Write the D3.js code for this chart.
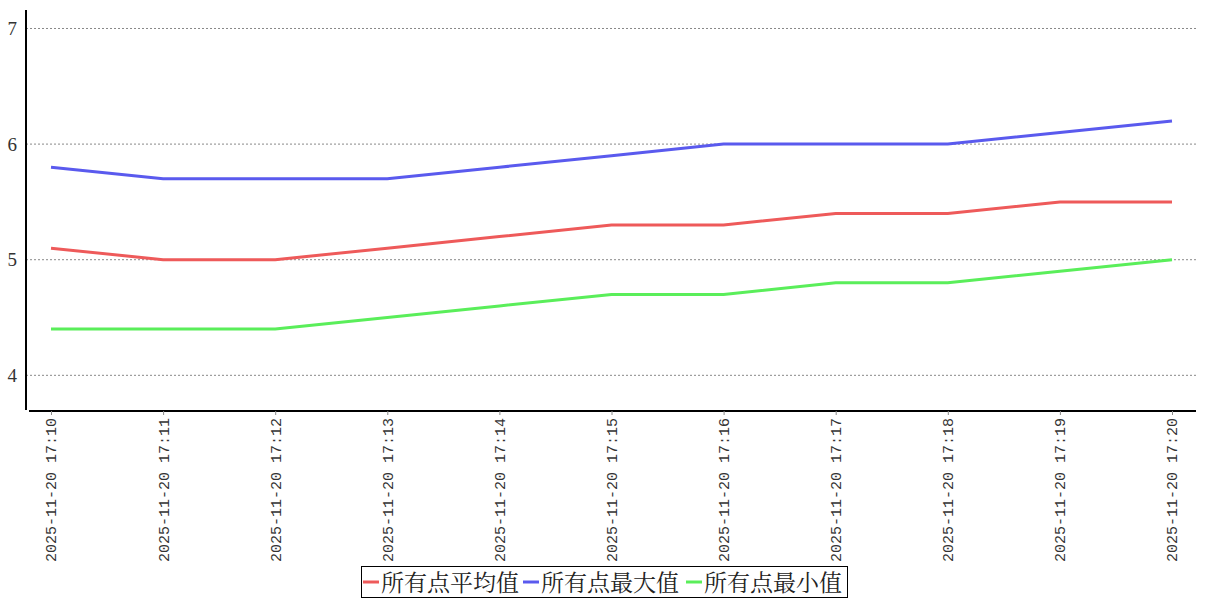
<!DOCTYPE html>
<html><head><meta charset="utf-8">
<script src="https://cdn.jsdelivr.net/npm/d3@7"></script>
<style>body{margin:0;background:#fff;} svg{display:block;}</style>
</head><body>
<svg id="c" width="1207" height="600"></svg>
<script>
const categories = ["2025-11-20 17:10","2025-11-20 17:11","2025-11-20 17:12","2025-11-20 17:13","2025-11-20 17:14","2025-11-20 17:15","2025-11-20 17:16","2025-11-20 17:17","2025-11-20 17:18","2025-11-20 17:19","2025-11-20 17:20"];
const avgValues = [5.1,5.0,5.0,5.1,5.2,5.3,5.3,5.4,5.4,5.5,5.5];
const maxValues = [5.8,5.7,5.7,5.7,5.8,5.9,6.0,6.0,6.0,6.1,6.2];
const minValues = [4.4,4.4,4.4,4.5,4.6,4.7,4.7,4.8,4.8,4.9,5.0];
const seriesNames = ["所有点平均值","所有点最大值","所有点最小值"];
const yTicks = [4,5,6,7];

const colors = ["#ee5a5a","#5a5aee","#5aee5a"];
const series = [avgValues, maxValues, minValues];
const font = "'Liberation Serif','DejaVu Serif',serif";

const svg = d3.select("#c");
const x = d3.scalePoint().domain(categories).range([51,1172]);
const y = d3.scaleLinear().domain([3.7,7.16]).range([410,10]);

// grid
svg.append("g").selectAll("line").data(yTicks).join("line")
  .attr("x1",26).attr("x2",1196).attr("y1",d=>y(d)).attr("y2",d=>y(d))
  .attr("stroke","#888").attr("stroke-width",1).attr("stroke-dasharray","2,2");

// y axis
const ya = svg.append("g").attr("transform","translate(26,0)")
  .call(d3.axisLeft(y).tickValues(yTicks).tickSize(0).tickPadding(9).tickFormat(d3.format("d")));
ya.select(".domain").attr("stroke","#000").attr("stroke-width",2).attr("d","M0,10V410");
ya.selectAll("text").attr("font-family",font).attr("font-size",19).attr("fill","#333");

// x axis
const xa = svg.append("g").attr("transform","translate(0,411)")
  .call(d3.axisBottom(x).tickSize(4).tickPadding(4));
xa.select(".domain").attr("stroke","#000").attr("stroke-width",2).attr("d","M29,0H1196");
xa.selectAll(".tick line").attr("stroke","#888");
xa.selectAll("text").attr("font-family","'Liberation Mono','DejaVu Sans Mono',monospace").attr("font-size",15).attr("fill","#333")
  .attr("transform","rotate(-90)").attr("text-anchor","end").attr("dx","-7").attr("dy","0.33em").attr("x",0).attr("y",0);

// lines
const line = d3.line().x((d,i)=>x(categories[i])).y(d=>y(d));
series.forEach((s,k)=>{
  svg.append("path").datum(s).attr("d",line).attr("fill","none")
    .attr("stroke",colors[k]).attr("stroke-width",3);
});

// legend
const lg = svg.append("g");
lg.append("rect").attr("x",361.5).attr("y",566.5).attr("width",486).attr("height",31)
  .attr("fill","#fff").attr("stroke","#000").attr("stroke-width",1);
const itemX = [363,523,686];
seriesNames.forEach((n,k)=>{
  lg.append("line").attr("x1",itemX[k]).attr("x2",itemX[k]+16).attr("y1",582).attr("y2",582)
    .attr("stroke",colors[k]).attr("stroke-width",3);
  lg.append("text").attr("x",itemX[k]+18).attr("y",591).text(n)
    .attr("font-family","'Noto Serif CJK SC','Noto Sans CJK SC',serif").attr("font-size",23).attr("fill","#222");
});
</script>
</body></html>
